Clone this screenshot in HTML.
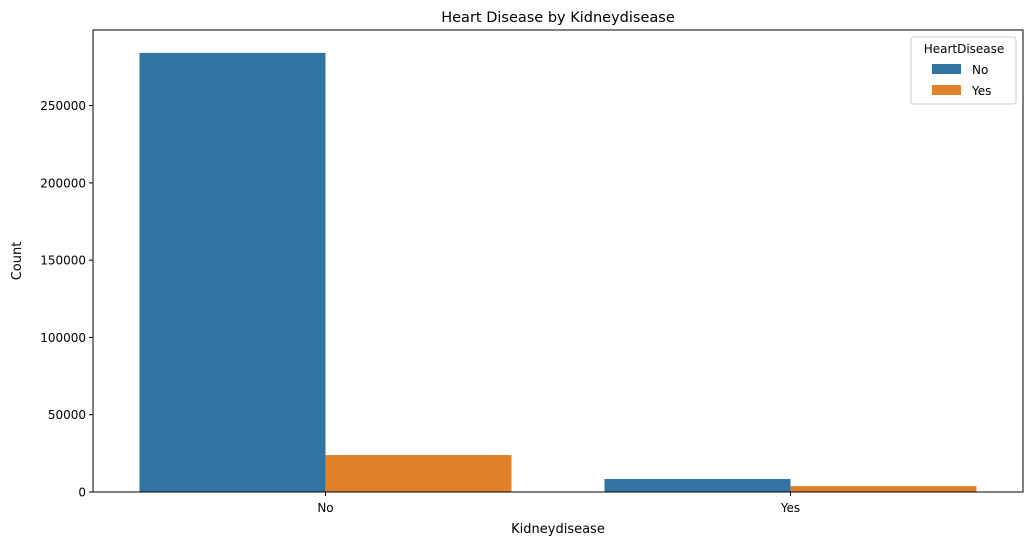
<!DOCTYPE html>
<html><head><meta charset="utf-8"><style>
body{margin:0;background:#fff;font-family:"Liberation Sans","DejaVu Sans",sans-serif;}
svg text{font-family:"DejaVu Sans","Liberation Sans",sans-serif;}
</style></head><body>
<svg id="chart" width="1032" height="545" xmlns="http://www.w3.org/2000/svg">
<rect width="1032" height="545" fill="#fff"/>
<text x="558" y="22" text-anchor="middle" font-size="14.5">Heart Disease by Kidneydisease</text>
<g id="bars"></g>
<g id="axes"></g>
<rect x="93" y="30" width="930" height="462" fill="none" stroke="#000" stroke-width="1"/>
<text x="558" y="533" text-anchor="middle" font-size="13">Kidneydisease</text>
<text transform="translate(21,261) rotate(-90)" text-anchor="middle" font-size="13">Count</text>
<g>
<rect x="911" y="37" width="105" height="67" rx="3" fill="#fff" stroke="#ccc"/>
<text x="964" y="53" text-anchor="middle" font-size="12">HeartDisease</text>
<rect x="932" y="64" width="29" height="10" fill="#3274a1"/>
<text x="972" y="74" font-size="12">No</text>
<rect x="932" y="85" width="29" height="10" fill="#e1812c"/>
<text x="972" y="95" font-size="12">Yes</text>
</g>
</svg>
<script>
const categories = ["No", "Yes"];
const seriesNames = ["No", "Yes"];
const seriesNo = [284100, 8400];
const seriesYes = [23900, 3800];
const yTicks = [0, 50000, 100000, 150000, 200000, 250000];

const NS = "http://www.w3.org/2000/svg";
const plotLeft = 93, plotRight = 1023, plotBottom = 492, plotTop = 30;
const yMax = 298900;
const yScale = v => plotBottom - v / yMax * (plotBottom - plotTop);
const band = (plotRight - plotLeft) / categories.length;
const xc = i => plotLeft + band * (i + 0.5);
const bw = band * 0.4;
const colors = ["#3274a1", "#e1812c"];
const series = [seriesNo, seriesYes];
const barsG = document.getElementById("bars");
const axesG = document.getElementById("axes");
function mk(tag, attrs, parent) {
  const e = document.createElementNS(NS, tag);
  for (const k in attrs) e.setAttribute(k, attrs[k]);
  parent.appendChild(e);
  return e;
}
series.forEach((s, si) => {
  s.forEach((v, ci) => {
    const r = mk("rect", {x: xc(ci) - bw + si * bw, y: yScale(v), width: bw, height: plotBottom - yScale(v), fill: colors[si]}, barsG);
    
    
  });
});
yTicks.forEach(t => {
  const l = mk("line", {x1: plotLeft - 4, x2: plotLeft, y1: yScale(t), y2: yScale(t), stroke: "#000"}, axesG);
  
  
  const tx = mk("text", {x: plotLeft - 7, y: yScale(t) + 4.5, "text-anchor": "end", "font-size": "12"}, axesG);
  tx.textContent = t;
  
  
});
categories.forEach((c, i) => {
  const l = mk("line", {x1: xc(i), x2: xc(i), y1: plotBottom, y2: plotBottom + 4, stroke: "#000"}, axesG);
  
  
  const tx = mk("text", {x: xc(i), y: plotBottom + 20, "text-anchor": "middle", "font-size": "12"}, axesG);
  tx.textContent = c;
  
  
});
</script>
</body></html>
